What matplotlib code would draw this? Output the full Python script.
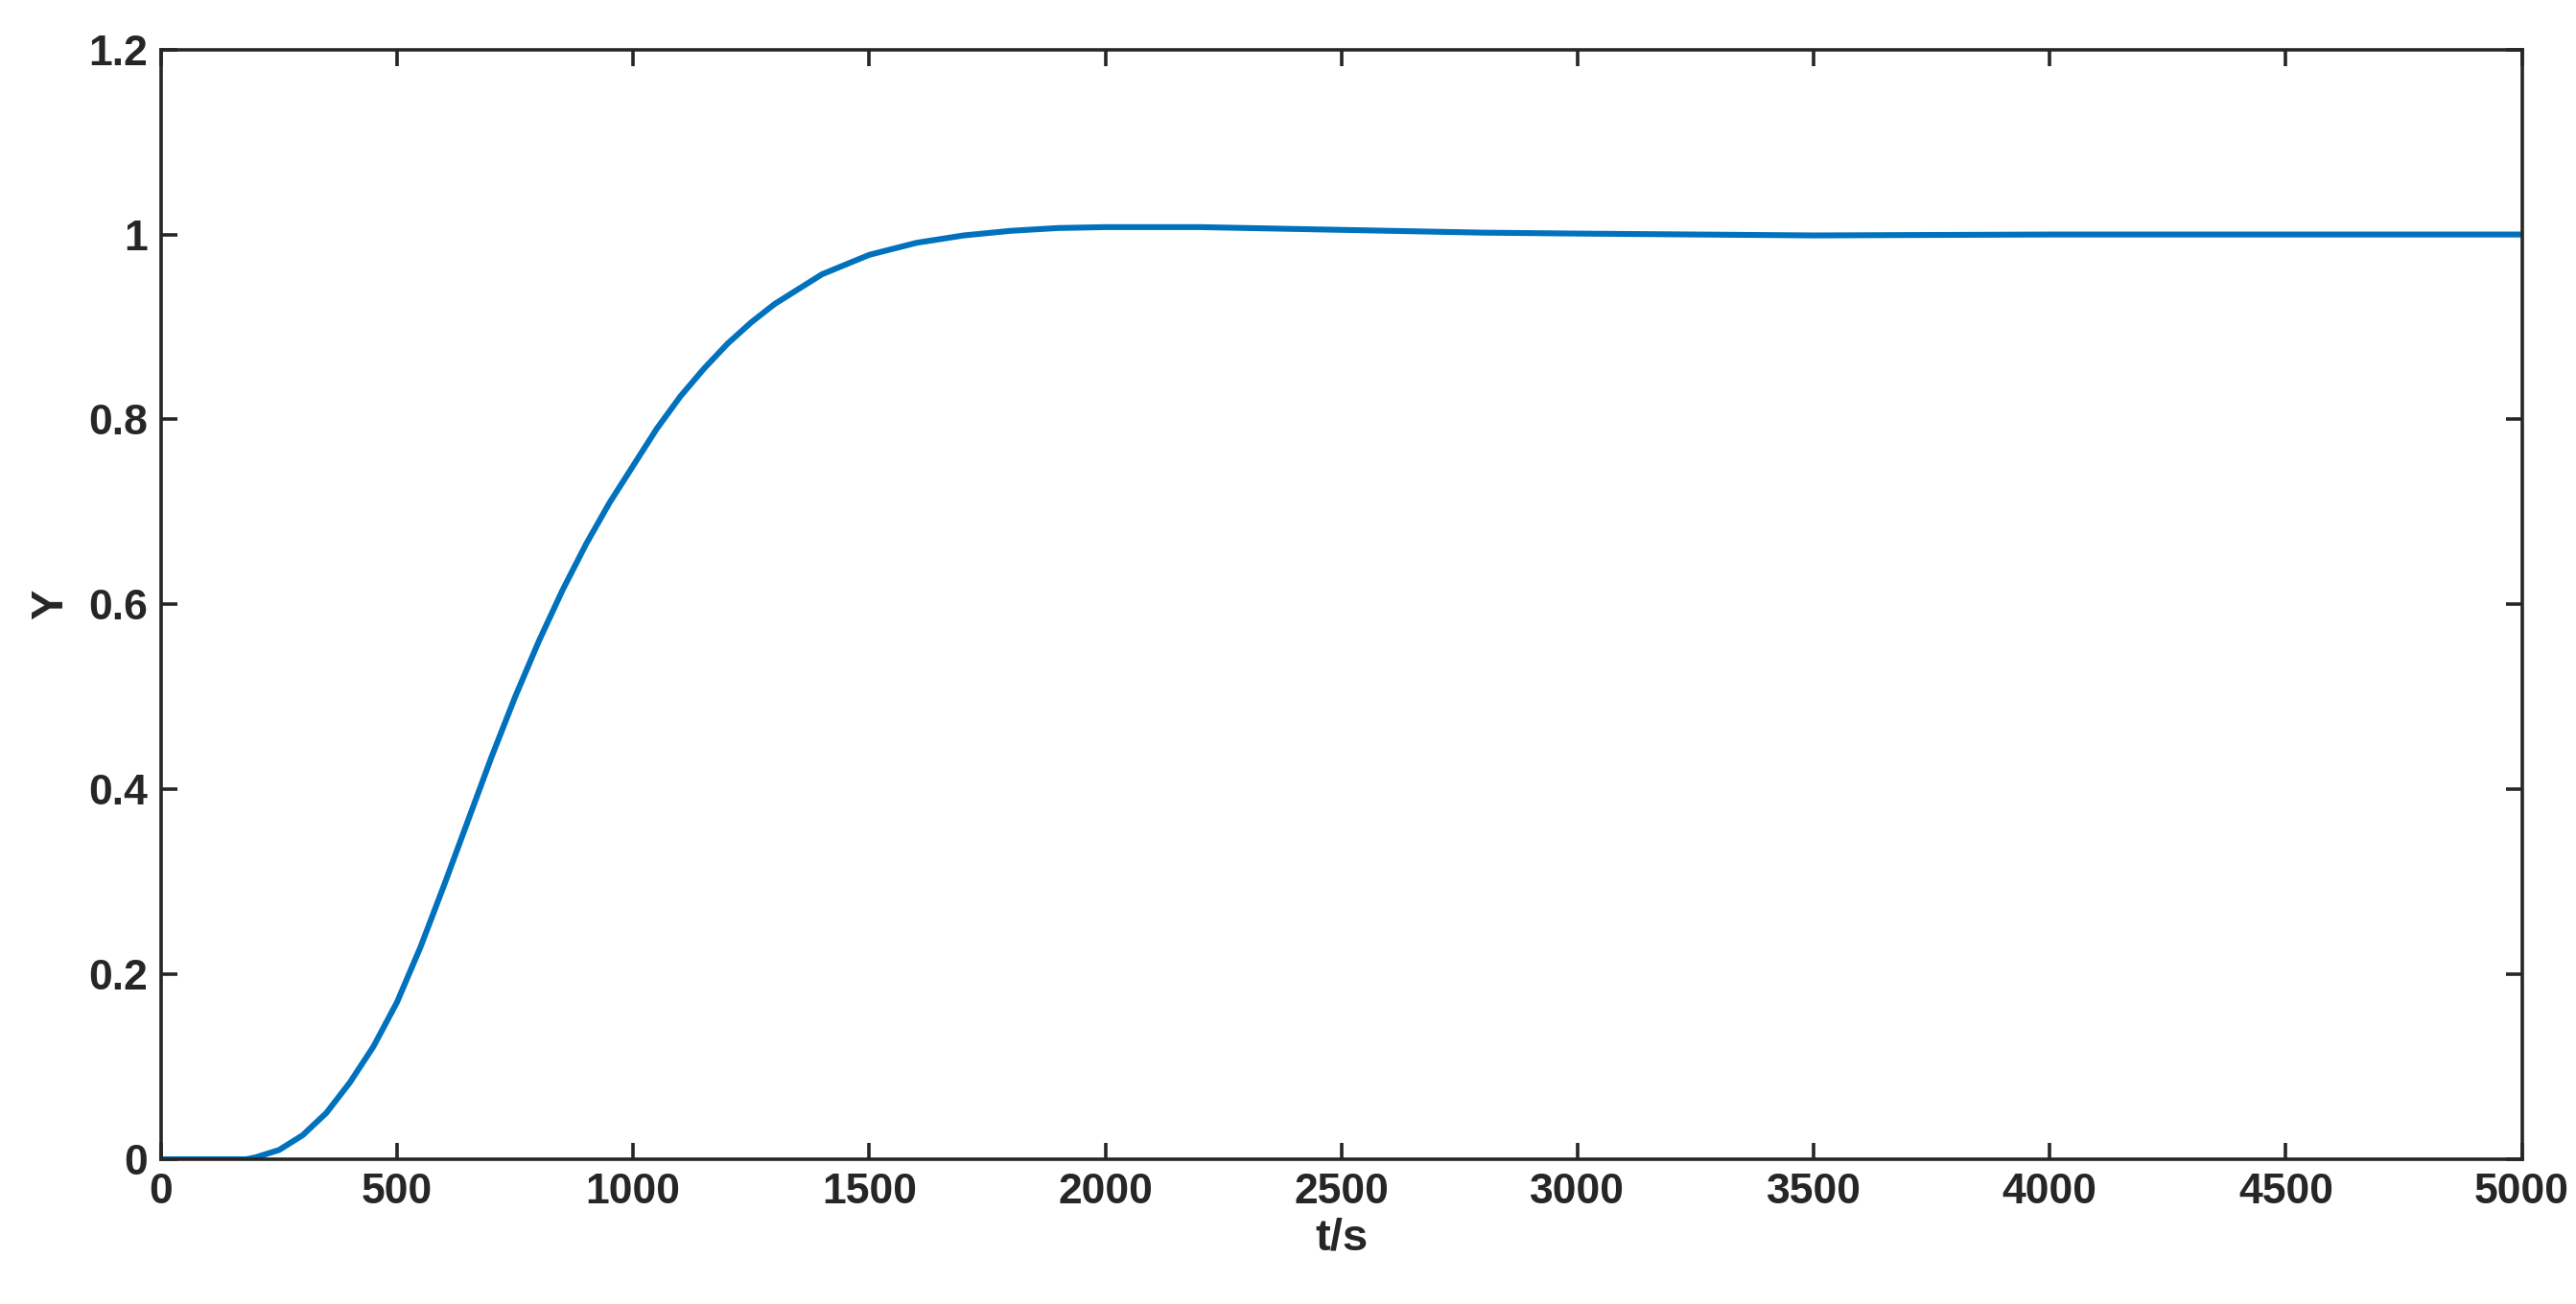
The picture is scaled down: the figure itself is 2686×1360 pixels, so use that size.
import matplotlib
matplotlib.use("Agg")
import matplotlib.pyplot as plt

# step response
t = [0, 100, 180, 200, 250, 300, 350, 400, 450, 500, 550, 600, 650, 700, 750, 800,
     850, 900, 950, 1000, 1050, 1100, 1150, 1200, 1250, 1300, 1400, 1500, 1600, 1700,
     1800, 1900, 2000, 2200, 2500, 2800, 3000, 3500, 4000, 4500, 5000]
y = [0, 0, 0, 0.002, 0.010, 0.026, 0.050, 0.083, 0.122, 0.170, 0.230, 0.297, 0.366,
     0.435, 0.500, 0.560, 0.615, 0.665, 0.710, 0.750, 0.790, 0.825, 0.855, 0.882,
     0.905, 0.925, 0.957, 0.978, 0.991, 0.999, 1.004, 1.007, 1.008, 1.008, 1.005,
     1.002, 1.001, 0.999, 1.0, 1.0, 1.0]

plt.rcParams['font.family'] = ['Liberation Sans', 'DejaVu Sans']
plt.rcParams['font.weight'] = 'bold'
plt.rcParams['font.size'] = 16

fig = plt.figure(figsize=(13.43, 6.8), dpi=200)
ax = fig.add_axes([0.0625, 0.111, 0.9165, 0.851])
ax.plot(t, y, color='#0072BD', linewidth=2.2)

ax.set_xlim(0, 5000)
ax.set_ylim(0, 1.2)
ax.set_xticks(range(0, 5001, 500))
ax.set_yticks([0, 0.2, 0.4, 0.6, 0.8, 1, 1.2])
ax.set_yticklabels(['0', '0.2', '0.4', '0.6', '0.8', '1', '1.2'])
ax.tick_params(direction='in', top=True, right=True, length=6, width=1.3,
               colors='#262626', pad=5)
for s in ax.spines.values():
    s.set_linewidth(1.3)
    s.set_color('#262626')
ax.set_xlabel('t/s', fontsize=17, fontweight='bold', color='#262626', labelpad=2)
ax.set_ylabel('Y', fontsize=17, fontweight='bold', color='#262626', labelpad=6)

plt.savefig('out.png', dpi=200)
plt.close()
